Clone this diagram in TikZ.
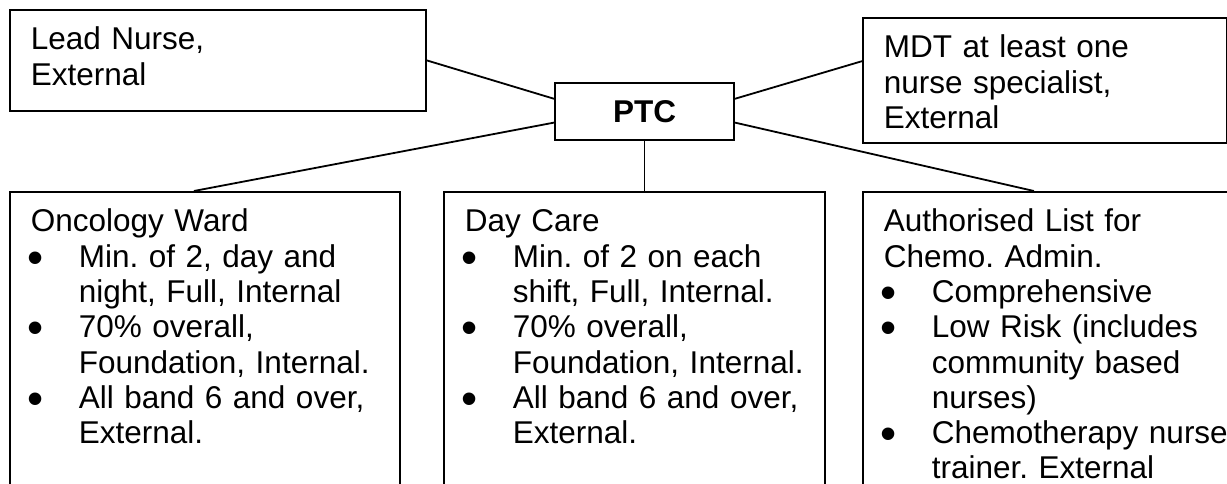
\documentclass[tikz,border=0pt]{standalone}
\usepackage{fontspec}
\setmainfont{Liberation Sans}
\usetikzlibrary{positioning}

\newcommand{\bul}[1]{\makebox[48pt][l]{\hspace*{-3pt}\raisebox{-6pt}[0pt][0pt]{\fontsize{46}{0}\selectfont\textbullet}}#1}
\newcommand{\cnt}[1]{\hspace*{48pt}#1}

\begin{document}
\begin{tikzpicture}[x=1pt,y=-1pt,
   box/.style={draw,line width=1.8pt,anchor=north west,align=left,
      inner xsep=21pt,inner ysep=0pt,text height=40pt,
      font=\fontsize{31.5}{35.3}\selectfont\frenchspacing},
   ptcbox/.style={draw,line width=1.8pt,minimum width=179pt,minimum height=57pt,
      inner sep=0pt,font=\fontsize{31.5}{35.3}\selectfont\bfseries},
   link/.style={line width=1.8pt}]
   \useasboundingbox (0,0) rectangle (1227,484);
   \clip (0,0) rectangle (1227,484);
   % top row
   \node[box,text width=374pt,text depth=61pt] (lead) at (9,9) {Lead Nurse,\\External};
   \node[ptcbox] (ptc) at (644.5,111.5) {PTC};
   \node[box,text width=322pt,text depth=85pt] (mdt) at (862,17)
      {MDT at least one\\nurse specialist,\\External};
   % bottom row
   \node[box,text width=348pt,text depth=270pt] (ward) at (9,191)
      {Oncology Ward\\\bul{Min. of 2, day and}\\\cnt{night, Full, Internal}\\
       \bul{70\% overall,}\\\cnt{Foundation, Internal.}\\
       \bul{All band 6 and over,}\\\cnt{External.}};
   \node[box,text width=339pt,text depth=270pt] (day) at (443,191)
      {Day Care\\\bul{Min. of 2 on each}\\\cnt{shift, Full, Internal.}\\
       \bul{70\% overall,}\\\cnt{Foundation, Internal.}\\
       \bul{All band 6 and over,}\\\cnt{External.}};
   \node[box,text width=356pt,text depth=270pt] (auth) at (862,191)
      {Authorised List for\\Chemo. Admin.\\\bul{Comprehensive}\\
       \bul{Low Risk (includes}\\\cnt{community based}\\\cnt{nurses)}\\
       \bul{Chemotherapy nurse}\\\cnt{trainer. External}};
   % connectors
   \draw[link] (lead.east) -- (ptc.172);
   \draw[link] (ptc.8) -- (mdt.174);
   \draw[link] (ptc.187) -- ([xshift=-11pt]ward.north);
   \draw[link] (ptc.south) -- (ptc.south |- day.north);
   \draw[link] (ptc.353) -- ([xshift=-28pt]auth.north);
\end{tikzpicture}
\end{document}
